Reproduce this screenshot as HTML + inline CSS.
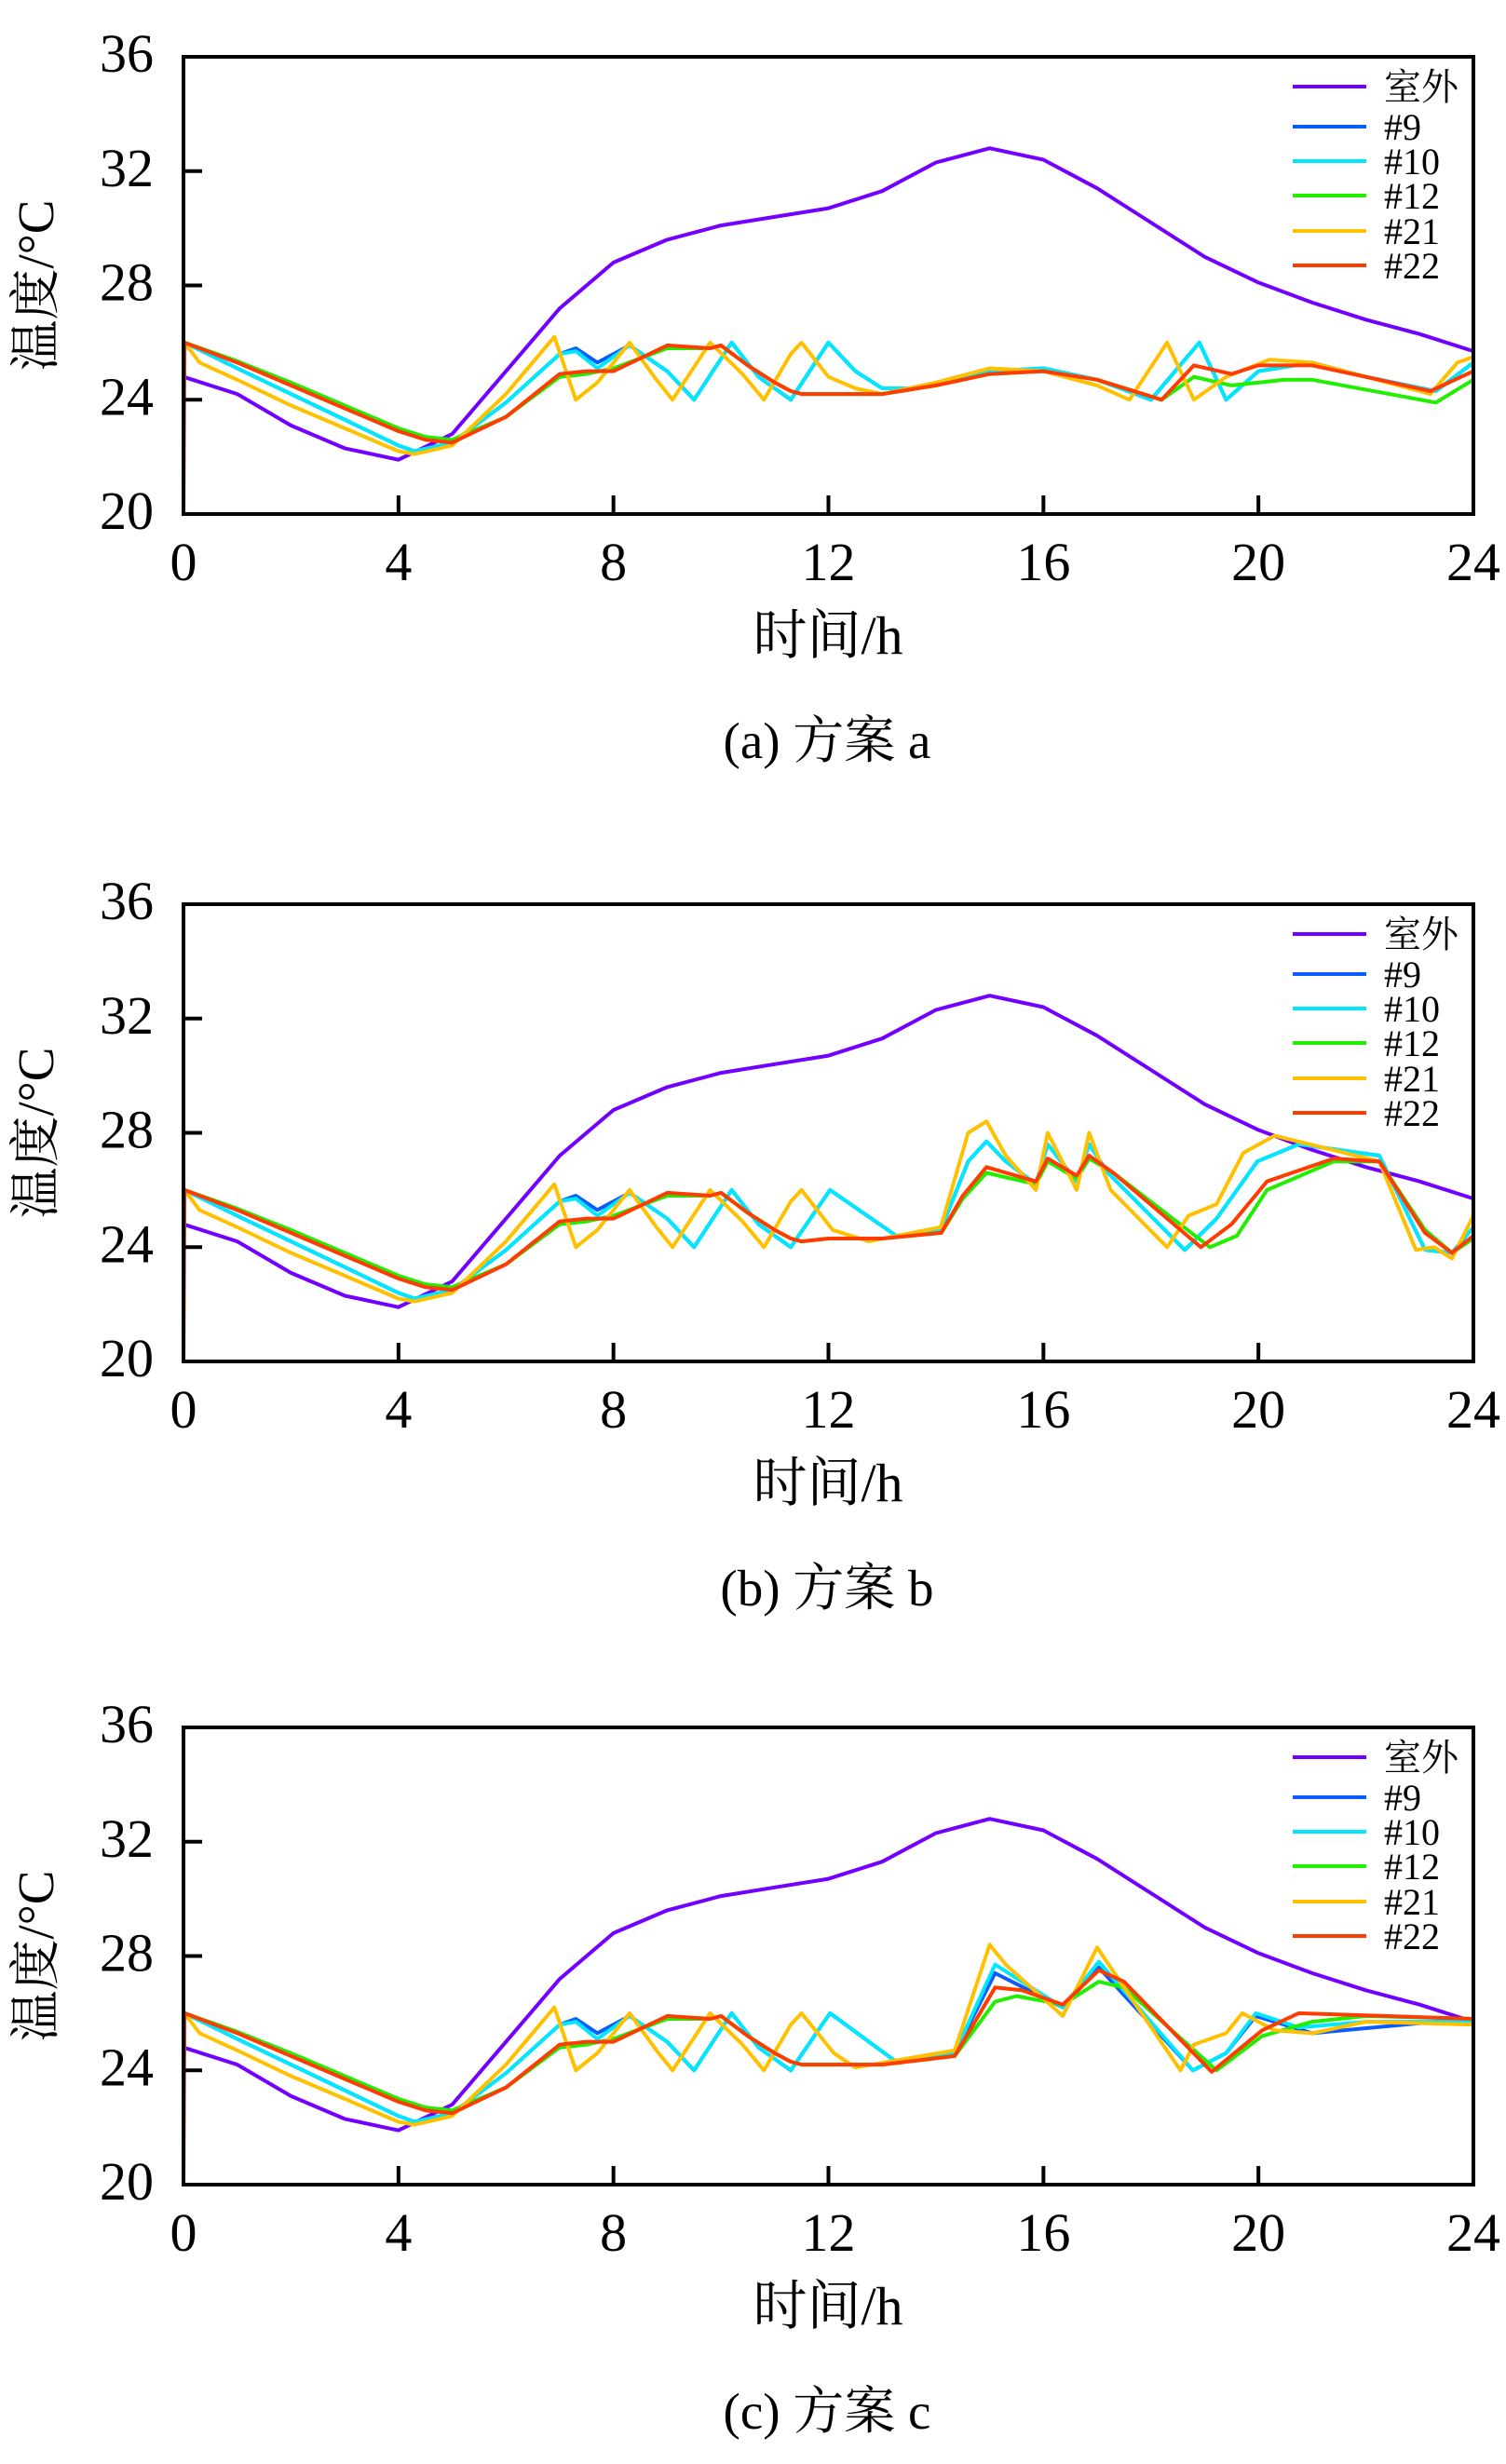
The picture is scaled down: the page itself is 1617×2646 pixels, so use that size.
<!DOCTYPE html>
<html><head><meta charset="utf-8">
<style>
html,body{margin:0;padding:0;background:#fff;}
svg{display:block;}
text{font-family:"Liberation Serif","Noto Serif CJK SC","Noto Sans CJK SC",serif;fill:#000;}
</style></head>
<body>
<svg id="fig" width="1617" height="2646" viewBox="0 0 1617 2646" xmlns="http://www.w3.org/2000/svg"></svg>
<script>
// ---- data ----
const xTicks = [0,4,8,12,16,20,24];
const yTicks = [20,24,28,32,36];
const seriesNames = ["室外","#9","#10","#12","#21","#22"];
const captions = ["(a) 方案 a","(b) 方案 b","(c) 方案 c"];

const outT = [0,1,2,3,4,5,6,7,8,9,10,11,12,13,14,15,16,17,18,19,20,21,22,23,24];
const outV = [24.8,24.2,23.1,22.3,21.9,22.8,25.0,27.2,28.8,29.6,30.1,30.4,30.7,31.3,32.3,32.8,32.4,31.4,30.2,29.0,28.1,27.4,26.8,26.3,25.7];

// shared morning prefix (0 - 11.3 h)
const redPreT = [0,0.02,1,2,3,4,4.5,5,6,7,7.5,8,9,9.8,10,10.5,11,11.3];
const redPreV = [20,26,25.3,24.5,23.7,22.9,22.6,22.5,23.4,24.9,25.0,25.0,25.9,25.8,25.9,25.2,24.6,24.3];
const greenPreT = [0.02,1,2,3,4,4.5,5,6,7,7.5,8,9,9.8,10,10.5,11,11.3];
const greenPreV = [26,25.35,24.6,23.8,23.0,22.7,22.6,23.4,24.8,24.9,25.1,25.8,25.8,25.9,25.2,24.6,24.3];
const cyanPreT = [0.02,1,2,3,4,4.3,5,6,7,7.3,7.7,8.3,9,9.5,10.2,10.7,11.3];
const cyanPreV = [26,25.1,24.2,23.3,22.4,22.2,22.5,23.9,25.6,25.7,25.1,25.9,25.0,24.0,26.0,24.8,24.0];
const bluePreV = [26,25.1,24.2,23.3,22.4,22.2,22.5,23.9,25.6,25.8,25.3,25.9,25.0,24.0,26.0,24.8,24.0];
const yellowPreT = [0.02,0.3,1,2,3,4,4.3,5,6,6.9,7.3,7.7,8.3,8.8,9.1,9.8,10.4,10.8,11.3];
const yellowPreV = [26,25.3,24.7,23.8,23.0,22.2,22.1,22.4,24.2,26.2,24.0,24.6,26.0,24.7,24.0,26.0,24.9,24.0,25.6];

// plot a tails
const redAT = [11.5,12,13,14,15,16,17,18.2,18.8,19.5,20,21,22,23.2,24];
const redAV = [24.2,24.2,24.2,24.5,24.9,25.0,24.7,24.0,25.2,24.9,25.2,25.2,24.8,24.3,25.0];
const greenAT = [11.5,12,13,14,15,16,17,18.2,18.8,19.5,20.5,21,23.3,24];
const greenAV = [24.2,24.2,24.2,24.5,24.9,25.0,24.7,24.0,24.8,24.5,24.7,24.7,23.9,24.7];
const cyanAT = [12,12.5,13,13.6,15,16,17,18,18.9,19.4,20,21,22,23.3,24];
const cyanAV = [26.0,25.0,24.4,24.4,25.0,25.1,24.7,24.0,26.0,24.0,25.0,25.3,24.8,24.3,25.3];
const yellowAT = [11.5,12,12.5,13,14,15,16,17,17.6,18.3,18.8,19.4,20.2,21,22,23.2,23.7,24];
const yellowAV = [26.0,24.8,24.4,24.2,24.6,25.1,25.0,24.5,24.0,26.0,24.0,24.8,25.4,25.3,24.8,24.2,25.3,25.5];

// plot b tails
const redBT = [11.5,12,13,14.1,14.5,14.94,15.86,16.08,16.62,16.85,17.3,18.93,19.5,20.16,21.4,22.25,23.1,23.6,24];
const redBV = [24.2,24.3,24.3,24.5,25.8,26.8,26.3,27.1,26.5,27.2,26.6,24.0,24.8,26.3,27.1,27.0,24.5,23.8,24.4];
const greenBT = [11.5,12,13,14.1,14.5,14.94,15.86,16.08,16.62,16.85,17.3,19.1,19.6,20.16,21.4,22.25,23.1,23.6,24];
const greenBV = [24.2,24.3,24.3,24.5,25.7,26.6,26.2,27.0,26.4,27.1,26.6,24.0,24.4,26.0,27.0,27.0,24.6,23.8,24.3];
const cyanBT = [12.03,13.26,14.09,14.6,14.94,15.3,15.86,16.08,16.62,16.85,17.2,18.63,19.22,19.98,20.75,22.25,23.1,23.6,24];
const cyanBV = [26.0,24.4,24.6,27.0,27.7,27.0,26.2,27.6,26.3,27.6,26.6,23.9,25.0,27.0,27.6,27.2,23.9,23.8,24.7];
const yellowBT = [11.5,12.08,12.75,14.09,14.6,14.94,15.3,15.86,16.08,16.62,16.85,17.25,18.3,18.7,19.22,19.72,20.3,22.25,22.93,23.27,23.6,24];
const yellowBV = [26.0,24.6,24.2,24.7,28.0,28.4,27.2,26.0,28.0,26.0,28.0,26.0,24.0,25.1,25.5,27.3,27.9,27.0,23.9,24.0,23.6,25.1];

// plot c tails
const redCT = [11.5,12,13,14.35,15.1,15.6,16.36,17.03,17.5,19.13,20.07,20.75,24];
const redCV = [24.2,24.2,24.2,24.5,26.9,26.8,26.3,27.5,27.1,23.95,25.4,26.0,25.8];
const greenCT = [11.5,12,13,14.35,15.1,15.5,16.36,17.03,17.5,19.22,20.07,21,22,24];
const greenCV = [24.2,24.2,24.2,24.5,26.4,26.6,26.3,27.1,26.9,24.0,25.2,25.7,25.9,25.8];
const cyanCT = [12.03,13.26,14.35,15.1,16.36,17.03,18.78,19.4,19.95,20.75,22,24];
const cyanCV = [26.0,24.3,24.6,27.7,26.2,27.8,24.0,24.6,26.0,25.5,25.7,25.7];
const blueCT = [12.03,13.26,14.35,15.1,16.36,17.03,18.78,19.4,19.95,21,23.3,24];
const blueCV = [26.0,24.3,24.6,27.4,26.2,27.6,24.0,24.6,25.9,25.3,25.7,25.7];
const yellowCT = [11.5,12.1,12.5,14.35,15.0,15.3,16.36,17.0,17.5,18.55,18.8,19.4,19.7,20.3,21,22,24];
const yellowCV = [26.0,24.6,24.1,24.7,28.4,27.7,25.9,28.3,26.9,24.0,24.9,25.3,26.0,25.4,25.3,25.7,25.6];

const colors = ["#7100ff","#0a5cff","#00e8ff","#22ee00","#ffc000","#ff3c00"];

// ---- layout ----
const NS = "http://www.w3.org/2000/svg";
const svg = document.getElementById("fig");
const L = 197, R = 1582, H = 491;
const tops = [61, 971, 1855];
const letters = ["a","b","c"];

function mk(tag, attrs, parent){
  const e = document.createElementNS(NS, tag);
  for (const k in attrs) e.setAttribute(k, attrs[k]);
  (parent||svg).appendChild(e);
  return e;
}

function chartSeries(i){
  const tails = [
    [[redAT,redAV],[greenAT,greenAV],[cyanAT,cyanAV],[cyanAT,cyanAV],[yellowAT,yellowAV]],
    [[redBT,redBV],[greenBT,greenBV],[cyanBT,cyanBV],[cyanBT,cyanBV],[yellowBT,yellowBV]],
    [[redCT,redCV],[greenCT,greenCV],[cyanCT,cyanCV],[blueCT,blueCV],[yellowCT,yellowCV]]
  ][i];
  return [
    [outT, outV],
    [cyanPreT.concat(tails[3][0]), bluePreV.concat(tails[3][1])],
    [cyanPreT.concat(tails[2][0]), cyanPreV.concat(tails[2][1])],
    [greenPreT.concat(tails[1][0]), greenPreV.concat(tails[1][1])],
    [yellowPreT.concat(tails[4][0]), yellowPreV.concat(tails[4][1])],
    [redPreT.concat(tails[0][0]), redPreV.concat(tails[0][1])]
  ];
}

for (let c = 0; c < 3; c++){
  const T = tops[c], B = T + H;
  const xs = h => L + (R - L) * h / 24;
  const ys = v => B - H * (v - 20) / 16;
  const g = mk("g", {});
  
  

  // series
  const series = chartSeries(c);
  series.forEach((s, k) => {
    const pts = s[0].map((t, j) => xs(t).toFixed(1) + "," + ys(s[1][j]).toFixed(1)).join(" ");
    const pl = mk("polyline", {points: pts, fill: "none", stroke: colors[k], "stroke-width": 4, "stroke-linejoin": "round"}, g);
    
    
  });

  // frame
  const fr = mk("rect", {x: L, y: T, width: R - L, height: H, fill: "none", stroke: "#000", "stroke-width": 4}, g);
  
  

  // y ticks
  yTicks.forEach(v => {
    if (v > 20 && v < 36){
      const tk = mk("line", {x1: L, x2: L + 20, y1: ys(v), y2: ys(v), stroke: "#000", "stroke-width": 4}, g);
      
      
    }
    const tl = mk("text", {x: 165, y: ys(v) + 16, "text-anchor": "end", "font-size": 58}, g);
    tl.textContent = v;
    
    
  });
  // x ticks
  xTicks.forEach(h => {
    if (h > 0 && h < 24){
      const tk = mk("line", {x1: xs(h), x2: xs(h), y1: B, y2: B - 20, stroke: "#000", "stroke-width": 4}, g);
      
      
    }
    const tl = mk("text", {x: xs(h), y: B + 71, "text-anchor": "middle", "font-size": 58}, g);
    tl.textContent = h;
    
    
  });

  // axis titles
  const yt = mk("text", {x: 0, y: 0, "text-anchor": "middle", "font-size": 55,
    transform: "translate(57," + (T + H / 2) + ") rotate(-90)"}, g);
  yt.textContent = "温度/°C";
  
  

  const xt = mk("text", {x: 889, y: B + 150, "text-anchor": "middle", "font-size": 58}, g);
  xt.textContent = "时间/h";
  
  

  const cap = mk("text", {x: 888, y: B + 262, "text-anchor": "middle", "font-size": 55}, g);
  cap.textContent = captions[c];
  
  

  // legend
  const rowY = [32, 75, 112, 149, 187, 224];
  seriesNames.forEach((n, k) => {
    const ly = T + rowY[k];
    const ln = mk("line", {x1: 1388, x2: 1467, y1: ly, y2: ly, stroke: colors[k], "stroke-width": 4}, g);
    
    
    const lt = mk("text", {x: 1486, y: ly + 14, "font-size": 40}, g);
    lt.textContent = n;
    
    
  });
}
</script>
</body></html>
